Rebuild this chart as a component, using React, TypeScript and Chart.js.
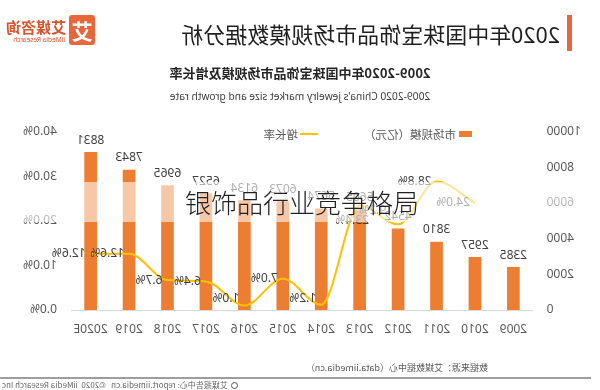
import React, { useEffect, useRef } from "react";
import { Chart, registerables } from "chart.js";

Chart.register(...registerables);

// ---- data ----
const categories = ["2009", "2010", "2011", "2012", "2013", "2014", "2015", "2016", "2017", "2018", "2019", "2020E"];
const marketSize = [2385, 2957, 3810, 4542, 5605, 5674, 6073, 6134, 6527, 6965, 7843, 8831];
const growthRate: (number | null)[] = [null, 24.0, 28.8, 19.2, 23.4, 1.2, 7.0, 1.0, 6.4, 6.7, 12.6, 12.6];
const sizeAxis = { min: 0, max: 10000, step: 2000 };
const rateAxis = { min: 0, max: 40, step: 10 };

const LATIN = "'Noto Sans', 'Noto Sans CJK SC', sans-serif";
const CJK = "'Noto Sans CJK SC', 'Noto Sans', sans-serif";
const ORANGE = "#ED7D31";
const GOLD = "#FFC000";

const labelPlugin = {
  id: "valueLabels",
  afterDatasetsDraw(chart: any) {
    const ctx = chart.ctx;
    ctx.save();
    ctx.font = `12px ${LATIN}`;
    ctx.fillStyle = "#404040";
    const barMeta = chart.getDatasetMeta(1);
    barMeta.data.forEach((el: any, i: number) => {
      ctx.textAlign = "center";
      ctx.textBaseline = "bottom";
      ctx.fillText(String(marketSize[i]), el.x, el.y - 6);
    });
    const lineMeta = chart.getDatasetMeta(0);
    lineMeta.data.forEach((el: any, i: number) => {
      const v = growthRate[i];
      if (v == null) return;
      const txt = v.toFixed(1) + "%";
      ctx.textBaseline = "middle";
      if (i === 4) {
        ctx.textAlign = "center";
        ctx.fillText(txt, el.x + 7.5, el.y + 15);
      } else if (i === 3) {
        ctx.textAlign = "left";
        ctx.fillText(txt, el.x + 5, el.y - 14);
      } else {
        ctx.textAlign = "left";
        ctx.fillText(txt, el.x + 5, Math.min(el.y, 299));
      }
    });
    ctx.restore();
  },
};

export default function App() {
  const ref = useRef<HTMLCanvasElement>(null);

  useEffect(() => {
    const chart = new Chart(ref.current!, {
      type: "bar",
      data: {
        labels: categories,
        datasets: [
          {
            type: "line",
            label: "增长率",
            data: growthRate,
            yAxisID: "y1",
            borderColor: GOLD,
            backgroundColor: GOLD,
            borderWidth: 2,
            pointRadius: 0,
            cubicInterpolationMode: "monotone",
            order: 0,
          } as any,
          {
            type: "bar",
            label: "市场规模（亿元）",
            data: marketSize,
            yAxisID: "y",
            backgroundColor: ORANGE,
            barThickness: 12,
            order: 1,
          } as any,
        ],
      },
      options: {
        responsive: false,
        animation: false,
        devicePixelRatio: 1,
        layout: { padding: { top: 131.5, left: 0, right: 0, bottom: 0 } },
        plugins: { legend: { display: false }, tooltip: { enabled: false }, title: { display: false } },
        scales: {
          x: {
            grid: { display: false, drawTicks: false },
            border: { display: true, color: "#d9d9d9", width: 1 },
            ticks: { color: "#595959", font: { size: 12, family: LATIN }, padding: 12, maxRotation: 0, autoSkip: false },
            afterFit: (s: any) => {
              s.height = 80;
            },
          },
          y: {
            position: "left",
            min: sizeAxis.min,
            max: sizeAxis.max,
            grid: { display: false, drawTicks: false },
            border: { display: false },
            ticks: {
              stepSize: sizeAxis.step,
              padding: 14,
              color: "#595959",
              font: { size: 12, family: LATIN },
              callback: (v: any) => String(v),
            },
            afterFit: (s: any) => {
              s.width = 67.4;
            },
          },
          y1: {
            position: "right",
            min: rateAxis.min,
            max: rateAxis.max,
            grid: { display: false, drawTicks: false },
            border: { display: false },
            ticks: {
              stepSize: rateAxis.step,
              padding: 14.5,
              color: "#595959",
              font: { size: 12, family: LATIN },
              callback: (v: any) => Number(v).toFixed(1) + "%",
            },
            afterFit: (s: any) => {
              s.width = 71.4;
            },
          },
        },
      },
      plugins: [labelPlugin],
    } as any);
    return () => chart.destroy();
  }, []);

  const abs = (o: React.CSSProperties): React.CSSProperties => ({ position: "absolute", whiteSpace: "nowrap", ...o });

  return (
    <>
      <div
        style={{
          position: "fixed",
          left: 0,
          top: 0,
          width: 600,
          height: 390,
          background: "#fff",
          overflow: "hidden",
          transform: "scaleX(-1)",
          fontFamily: CJK,
        }}
      >
        {/* header */}
        <div style={abs({ left: 28, top: 15, width: 5, height: 36, background: "#E8673A" })} />
        <div style={abs({ left: 40, top: 19, fontSize: 22, lineHeight: "28px", color: "#1f1f1f" })}>
          2020年中国珠宝饰品市场规模数据分析
        </div>
        <div
          style={abs({
            left: 505,
            top: 15,
            width: 26,
            height: 30,
            background: "#E8673A",
            borderRadius: 3,
            color: "#fff",
            fontSize: 21,
            fontWeight: 700,
            lineHeight: "30px",
            textAlign: "center",
          })}
        >
          艾
        </div>
        <div style={abs({ left: 534, top: 18, fontSize: 15, fontWeight: 700, lineHeight: "18px", color: "#D9532C" })}>
          艾媒咨询
        </div>
        <div style={abs({ left: 535, top: 36, fontSize: 6.5, lineHeight: "8px", color: "#D9532C", fontFamily: LATIN })}>
          iiMedia Research
        </div>

        {/* chart titles */}
        <div style={abs({ left: 0, width: 600, top: 64, textAlign: "center", fontSize: 13, fontWeight: 700, lineHeight: "18px", color: "#262626" })}>
          2009-2020年中国珠宝饰品市场规模及增长率
        </div>
        <div style={abs({ left: 0, width: 600, top: 88, textAlign: "center", fontSize: 10.2, lineHeight: "16px", color: "#404040", fontFamily: LATIN })}>
          2009-2020 China's jewelry market size and growth rate
        </div>

        <canvas ref={ref} width={600} height={390} style={{ position: "absolute", left: 0, top: 0, width: 600, height: 390 }} />

        {/* legend */}
        <div style={abs({ left: 128, top: 131, width: 13, height: 6, background: ORANGE })} />
        <div style={abs({ left: 144, top: 126, fontSize: 11.5, lineHeight: "16px", color: "#595959" })}>市场规模（亿元）</div>
        <div style={abs({ left: 282, top: 133, width: 18, height: 2, background: GOLD })} />
        <div style={abs({ left: 302, top: 126, fontSize: 11.5, lineHeight: "16px", color: "#595959" })}>增长率</div>

        {/* footer */}
        <div style={abs({ left: 112, top: 361, fontSize: 9, lineHeight: "13px", color: "#595959" })}>
          数据来源：艾媒数据中心（data.iimedia.cn）
        </div>
        <div style={abs({ left: 9, top: 377, width: 591, height: 1.5, background: "#9e9e9e" })} />
        <div style={abs({ right: 2, top: 380, fontSize: 8, lineHeight: "10px", color: "#666", display: "flex", alignItems: "center" })}>
          <span
            style={{
              display: "inline-block",
              width: 7,
              height: 7,
              borderRadius: "50%",
              border: "1.5px solid #555",
              marginRight: 3,
              boxSizing: "border-box",
            }}
          />
          艾媒报告中心: report.iimedia.cn&nbsp;&nbsp;&nbsp;©2020&nbsp;&nbsp;iiMedia Research Inc
        </div>
      </div>

      {/* unmirrored overlay */}
      <div
        style={{
          position: "fixed",
          left: 0,
          top: 182,
          width: 600,
          height: 40,
          background: "rgba(255,255,255,0.58)",
        }}
      >
        <div
          style={{
            position: "absolute",
            left: 185,
            top: 3,
            fontSize: 26,
            lineHeight: "34px",
            color: "#222",
            fontFamily: CJK,
            fontWeight: 300,
            whiteSpace: "nowrap",
          }}
        >
          银饰品行业竞争格局
        </div>
      </div>
    </>
  );
}
